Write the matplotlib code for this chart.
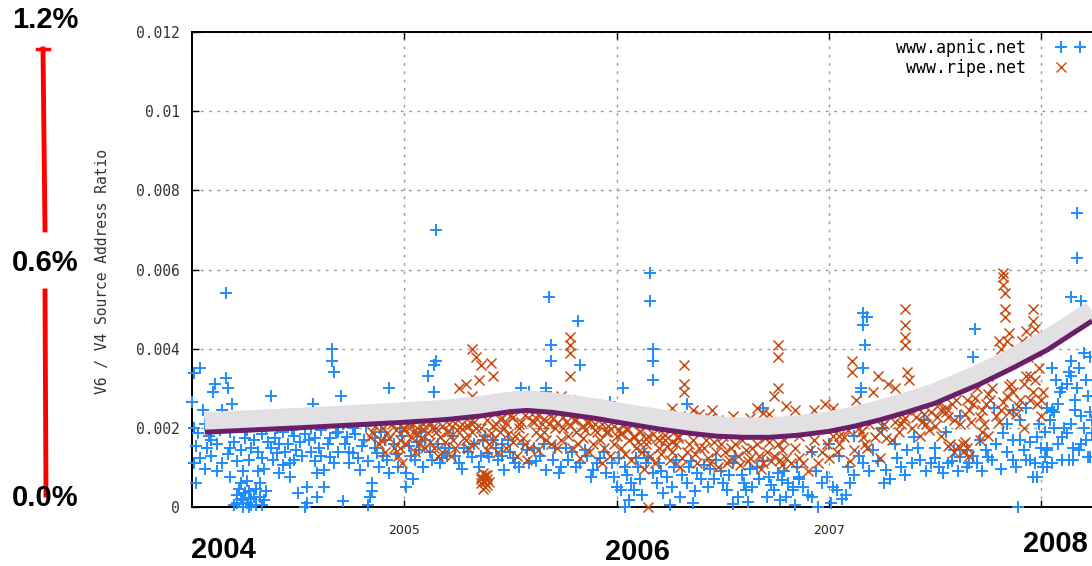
import matplotlib
matplotlib.use("Agg")
import matplotlib.pyplot as plt
from matplotlib.lines import Line2D
from matplotlib.legend_handler import HandlerLine2D

# www.apnic.net samples: (year, v6/v4 ratio)
APNIC = [
    (2004.01, 0.00338), (2004.04, 0.00350), (2004.00, 0.00265), (2004.05, 0.00245), (2004.01, 0.00200),
    (2004.03, 0.00187), (2004.07, 0.00150), (2004.01, 0.00110), (2004.02, 0.00060), (2004.11, 0.00310),
    (2004.16, 0.00326), (2004.17, 0.00300), (2004.10, 0.00290), (2004.14, 0.00245), (2004.19, 0.00260),
    (2004.18, 0.00190), (2004.18, 0.00150), (2004.12, 0.00090), (2004.18, 0.00075), (2004.21, 0.00030),
    (2004.24, 0.00018), (2004.26, 0.00010), (2004.29, 0.00025), (2004.31, 0.00090), (2004.32, 0.00060),
    (2004.34, 0.00018), (2004.37, 0.00280), (2004.37, 0.00150), (2004.40, 0.00136), (2004.41, 0.00086),
    (2004.46, 0.00076), (2004.43, 0.00190), (2004.48, 0.00180), (2004.49, 0.00144), (2004.46, 0.00110),
    (2004.54, 0.00050), (2004.54, 0.00010), (2004.56, 0.00200), (2004.57, 0.00260), (2004.60, 0.00150),
    (2004.62, 0.00093), (2004.66, 0.00400), (2004.66, 0.00370), (2004.67, 0.00340), (2004.70, 0.00280),
    (2004.68, 0.00187), (2004.65, 0.00126), (2004.59, 0.00025), (2004.73, 0.00177), (2004.76, 0.00136),
    (2004.79, 0.00093), (2004.84, 0.00025), (2004.85, 0.00060), (2004.87, 0.00136), (2004.89, 0.00190),
    (2004.93, 0.00300), (2004.93, 0.00086), (2004.97, 0.00100), (2005.01, 0.00086), (2005.01, 0.00050),
    (2005.04, 0.00070), (2005.11, 0.00330), (2005.14, 0.00360), (2005.15, 0.00370), (2005.14, 0.00290),
    (2005.09, 0.00100), (2005.17, 0.00110), (2005.19, 0.00150), (2005.26, 0.00110), (2005.32, 0.00126),
    (2005.39, 0.00136), (2005.42, 0.00170), (2005.15, 0.00700), (2004.16, 0.00540),
    (2004.06, 0.00210), (2004.09, 0.00170), (2004.13, 0.00195), (2004.22, 0.00205), (2004.25, 0.00175),
    (2004.28, 0.00150), (2004.30, 0.00215), (2004.33, 0.00125), (2004.35, 0.00200), (2004.39, 0.00175),
    (2004.42, 0.00225), (2004.45, 0.00160), (2004.50, 0.00210), (2004.52, 0.00130), (2004.55, 0.00170),
    (2004.58, 0.00115), (2004.61, 0.00195), (2004.64, 0.00160), (2004.69, 0.00140), (2004.71, 0.00210),
    (2004.74, 0.00110), (2004.77, 0.00185), (2004.80, 0.00155), (2004.82, 0.00205), (2004.86, 0.00175),
    (2004.90, 0.00130), (2004.95, 0.00160), (2004.98, 0.00200), (2005.03, 0.00130), (2005.06, 0.00165),
    (2005.08, 0.00190), (2005.12, 0.00140), (2005.20, 0.00130), (2005.23, 0.00180), (2005.28, 0.00150),
    (2005.35, 0.00100), (2005.38, 0.00180), (2005.44, 0.00120), (2004.27, 0.00040), (2004.23, 0.00060),
    (2004.20, 0.00005), (2004.30, 0.00005), (2004.50, 0.00035), (2004.62, 0.00050), (2004.71, 0.00015),
    (2004.83, 0.00005), (2004.85, 0.00040), (2004.53, 0.00000),
    (2004.02, 0.00155), (2004.04, 0.00125), (2004.06, 0.00095), (2004.08, 0.00180), (2004.09, 0.00130),
    (2004.12, 0.00160), (2004.14, 0.00110), (2004.15, 0.00205), (2004.17, 0.00135), (2004.20, 0.00165),
    (2004.21, 0.00115), (2004.23, 0.00145), (2004.24, 0.00090), (2004.26, 0.00195), (2004.27, 0.00120),
    (2004.29, 0.00170), (2004.31, 0.00140), (2004.33, 0.00185), (2004.34, 0.00095), (2004.36, 0.00165),
    (2004.38, 0.00120), (2004.40, 0.00200), (2004.41, 0.00160), (2004.43, 0.00105), (2004.44, 0.00140),
    (2004.47, 0.00195), (2004.48, 0.00120), (2004.51, 0.00165), (2004.53, 0.00185), (2004.56, 0.00140),
    (2004.58, 0.00175), (2004.59, 0.00085), (2004.61, 0.00130), (2004.63, 0.00210), (2004.65, 0.00175),
    (2004.67, 0.00110), (2004.69, 0.00190), (2004.72, 0.00160), (2004.74, 0.00140), (2004.76, 0.00200),
    (2004.78, 0.00125), (2004.81, 0.00170), (2004.83, 0.00115), (2004.86, 0.00150), (2004.88, 0.00100),
    (2004.91, 0.00170), (2004.92, 0.00120), (2004.96, 0.00135), (2004.99, 0.00180), (2005.02, 0.00155),
    (2005.05, 0.00120), (2005.07, 0.00145), (2005.10, 0.00170), (2005.13, 0.00120), (2005.16, 0.00160),
    (2005.18, 0.00125), (2005.21, 0.00150), (2005.24, 0.00130), (2005.27, 0.00095), (2005.30, 0.00140),
    (2005.33, 0.00160), (2005.36, 0.00130), (2005.43, 0.00150), (2005.46, 0.00130),
    (2004.21, 0.00010), (2004.22, 0.00045), (2004.23, 0.00020), (2004.25, 0.00035), (2004.26, 0.00065),
    (2004.28, 0.00005), (2004.28, 0.00020), (2004.30, 0.00045), (2004.32, 0.00025), (2004.33, 0.00005),
    (2004.35, 0.00040), (2004.24, 0.00000), (2004.27, 0.00000),
    (2005.69, 0.00410), (2005.69, 0.00370), (2005.83, 0.00360), (2005.55, 0.00300), (2005.59, 0.00290),
    (2005.67, 0.00300), (2005.67, 0.00290), (2005.97, 0.00265), (2006.03, 0.00300), (2006.17, 0.00400),
    (2006.17, 0.00370), (2006.17, 0.00320), (2006.33, 0.00260), (2006.69, 0.00250), (2005.37, 0.00170),
    (2005.40, 0.00126), (2005.49, 0.00170), (2005.47, 0.00093), (2005.52, 0.00110), (2005.59, 0.00110),
    (2005.61, 0.00150), (2005.67, 0.00093), (2005.73, 0.00086), (2005.77, 0.00120), (2005.83, 0.00110),
    (2005.89, 0.00093), (2005.95, 0.00086), (2006.00, 0.00050), (2006.02, 0.00043), (2006.06, 0.00018),
    (2006.08, 0.00043), (2006.11, 0.00070), (2006.14, 0.00110), (2006.17, 0.00086), (2006.22, 0.00035),
    (2006.24, 0.00076), (2006.30, 0.00025), (2006.33, 0.00060), (2006.38, 0.00086), (2006.43, 0.00050),
    (2006.46, 0.00070), (2006.52, 0.00043), (2006.57, 0.00025), (2006.61, 0.00043), (2006.64, 0.00050),
    (2006.71, 0.00025), (2006.74, 0.00043), (2006.77, 0.00018), (2006.80, 0.00025), (2006.83, 0.00050),
    (2006.16, 0.00590), (2006.16, 0.00520), (2005.68, 0.00530), (2005.82, 0.00470),
    (2005.50, 0.00140), (2005.56, 0.00160), (2005.64, 0.00130), (2005.71, 0.00150), (2005.79, 0.00140),
    (2005.86, 0.00130), (2005.92, 0.00125), (2005.98, 0.00110), (2006.04, 0.00100), (2006.09, 0.00125),
    (2006.13, 0.00140), (2006.20, 0.00110), (2006.27, 0.00100), (2006.35, 0.00115), (2006.41, 0.00105),
    (2006.49, 0.00090), (2006.55, 0.00110), (2006.59, 0.00080), (2006.66, 0.00100), (2006.72, 0.00075),
    (2006.79, 0.00090), (2006.86, 0.00070), (2006.04, 0.00000), (2006.25, 0.00005), (2006.36, 0.00010),
    (2006.55, 0.00008), (2006.62, 0.00012), (2006.84, 0.00005),
    (2005.46, 0.00160), (2005.51, 0.00125), (2005.54, 0.00100), (2005.58, 0.00145), (2005.62, 0.00115),
    (2005.66, 0.00160), (2005.70, 0.00120), (2005.74, 0.00100), (2005.76, 0.00150), (2005.81, 0.00100),
    (2005.85, 0.00145), (2005.88, 0.00075), (2005.91, 0.00110), (2005.94, 0.00140), (2005.99, 0.00075),
    (2006.01, 0.00125), (2006.05, 0.00080), (2006.07, 0.00060), (2006.10, 0.00100), (2006.12, 0.00030),
    (2006.15, 0.00125), (2006.19, 0.00060), (2006.21, 0.00090), (2006.26, 0.00050), (2006.28, 0.00120),
    (2006.31, 0.00080), (2006.34, 0.00100), (2006.37, 0.00040), (2006.40, 0.00070), (2006.44, 0.00095),
    (2006.47, 0.00120), (2006.50, 0.00060), (2006.53, 0.00080), (2006.56, 0.00130), (2006.60, 0.00060),
    (2006.63, 0.00095), (2006.67, 0.00070), (2006.69, 0.00115), (2006.73, 0.00055), (2006.76, 0.00085),
    (2006.81, 0.00060), (2006.85, 0.00100), (2006.88, 0.00050), (2006.90, 0.00030), (2006.94, 0.00090),
    (2006.99, 0.00075), (2007.02, 0.00050), (2007.08, 0.00030), (2007.12, 0.00080), (2007.14, 0.00130),
    (2007.19, 0.00090), (2007.23, 0.00115), (2007.26, 0.00060), (2007.32, 0.00125), (2007.36, 0.00080),
    (2007.39, 0.00110), (2007.42, 0.00150), (2007.46, 0.00090), (2007.50, 0.00125), (2007.54, 0.00085),
    (2007.58, 0.00115), (2007.61, 0.00090), (2007.68, 0.00130), (2007.72, 0.00090), (2007.77, 0.00120),
    (2007.81, 0.00095), (2007.84, 0.00140), (2007.88, 0.00100), (2007.92, 0.00145), (2007.97, 0.00110),
    (2008.00, 0.00150), (2008.05, 0.00110), (2008.08, 0.00160), (2008.11, 0.00200), (2008.16, 0.00270),
    (2008.19, 0.00230), (2008.22, 0.00280), (2008.08, 0.00260), (2008.12, 0.00310), (2008.17, 0.00300),
    (2008.02, 0.00190), (2008.06, 0.00200), (2008.15, 0.00120), (2008.21, 0.00170), (2008.24, 0.00220),
    (2006.78, 0.00068), (2006.83, 0.00043), (2006.86, 0.00076), (2006.92, 0.00025), (2006.97, 0.00060),
    (2007.01, 0.00010), (2007.04, 0.00043), (2007.09, 0.00100), (2007.10, 0.00060), (2007.16, 0.00110),
    (2007.21, 0.00144), (2007.27, 0.00093), (2007.29, 0.00070), (2007.34, 0.00100), (2007.37, 0.00144),
    (2007.40, 0.00177), (2007.43, 0.00120), (2007.48, 0.00110), (2007.52, 0.00100), (2007.56, 0.00110),
    (2007.59, 0.00144), (2007.65, 0.00100), (2007.65, 0.00144), (2007.71, 0.00170), (2007.74, 0.00144),
    (2007.79, 0.00160), (2007.87, 0.00120), (2007.95, 0.00120), (2007.96, 0.00076), (2008.01, 0.00100),
    (2008.03, 0.00144), (2007.98, 0.00177), (2007.90, 0.00170), (2007.87, 0.00245), (2007.93, 0.00250),
    (2007.99, 0.00210), (2008.05, 0.00245), (2008.10, 0.00300), (2008.14, 0.00330), (2008.18, 0.00350),
    (2008.10, 0.00177), (2008.14, 0.00210), (2008.18, 0.00144), (2008.10, 0.00120), (2008.19, 0.00160),
    (2008.14, 0.00370), (2008.14, 0.00530), (2008.19, 0.00520), (2008.17, 0.00630), (2008.17, 0.00742),
    (2007.16, 0.00490), (2007.18, 0.00480), (2007.16, 0.00460), (2007.17, 0.00410), (2007.69, 0.00450),
    (2007.16, 0.00350), (2007.15, 0.00300), (2007.15, 0.00290), (2007.68, 0.00380), (2008.05, 0.00350),
    (2008.13, 0.00340), (2008.20, 0.00390), (2008.23, 0.00380), (2008.07, 0.00320), (2008.21, 0.00320),
    (2008.09, 0.00290), (2008.03, 0.00250), (2008.06, 0.00240), (2008.16, 0.00245), (2008.23, 0.00240),
    (2008.04, 0.00220), (2008.12, 0.00187), (2008.20, 0.00200), (2008.24, 0.00187), (2008.03, 0.00150),
    (2008.15, 0.00150), (2008.22, 0.00126), (2008.02, 0.00126), (2008.03, 0.00100), (2007.98, 0.00076),
    (2008.13, 0.00120), (2008.23, 0.00126), (2007.93, 0.00120), (2007.87, 0.00170), (2007.95, 0.00163),
    (2007.90, 0.00220), (2007.82, 0.00187), (2007.79, 0.00160), (2007.75, 0.00126), (2007.70, 0.00110),
    (2007.66, 0.00110), (2007.62, 0.00126), (2007.89, 0.00000),
    (2007.00, 0.00160), (2007.12, 0.00180), (2007.25, 0.00200), (2007.45, 0.00220), (2007.55, 0.00190),
    (2007.62, 0.00230), (2007.78, 0.00250), (2007.84, 0.00210), (2006.92, 0.00140), (2007.05, 0.00130),
    (2007.31, 0.00160), (2007.50, 0.00150), (2007.06, 0.00020), (2006.95, 0.00000),
]

# www.ripe.net samples: (year, v6/v4 ratio)
RIPE = [
    (2004.84, 0.00177), (2004.85, 0.00190), (2004.88, 0.00160), (2004.92, 0.00187), (2004.95, 0.00150),
    (2004.98, 0.00170), (2004.99, 0.00110), (2005.03, 0.00177), (2005.04, 0.00190), (2005.07, 0.00160),
    (2005.11, 0.00187), (2005.14, 0.00150), (2005.17, 0.00177), (2005.20, 0.00190), (2005.23, 0.00170),
    (2005.26, 0.00300), (2005.29, 0.00310), (2005.35, 0.00320), (2005.32, 0.00400), (2005.34, 0.00380),
    (2005.36, 0.00360), (2005.32, 0.00280), (2005.37, 0.00086), (2005.39, 0.00070), (2005.36, 0.00060),
    (2005.38, 0.00050), (2005.36, 0.00076), (2005.39, 0.00055), (2005.29, 0.00170), (2005.32, 0.00190),
    (2005.41, 0.00187), (2005.43, 0.00210), (2004.98, 0.00150), (2004.90, 0.00200), (2004.94, 0.00210),
    (2005.00, 0.00200), (2005.09, 0.00210), (2005.13, 0.00200), (2005.18, 0.00140), (2005.22, 0.00130),
    (2005.27, 0.00210), (2005.30, 0.00150), (2005.40, 0.00160), (2005.44, 0.00140), (2005.42, 0.00330),
    (2005.41, 0.00365),
    (2004.86, 0.00205), (2004.89, 0.00170), (2004.91, 0.00140), (2004.93, 0.00175), (2004.96, 0.00195),
    (2004.97, 0.00130), (2005.01, 0.00160), (2005.02, 0.00215), (2005.05, 0.00140), (2005.06, 0.00200),
    (2005.08, 0.00175), (2005.10, 0.00150), (2005.12, 0.00165), (2005.15, 0.00200), (2005.16, 0.00130),
    (2005.19, 0.00165), (2005.21, 0.00210), (2005.24, 0.00150), (2005.25, 0.00195), (2005.28, 0.00175),
    (2005.31, 0.00215), (2005.33, 0.00160), (2005.34, 0.00200), (2005.37, 0.00175), (2005.39, 0.00145),
    (2005.42, 0.00170), (2005.45, 0.00190), (2005.37, 0.00065), (2005.38, 0.00080), (2005.40, 0.00062),
    (2005.00, 0.00195), (2005.03, 0.00205), (2005.06, 0.00185), (2005.09, 0.00198), (2005.12, 0.00210),
    (2005.15, 0.00190), (2005.18, 0.00205), (2005.21, 0.00192), (2005.24, 0.00212), (2005.27, 0.00198),
    (2005.30, 0.00205), (2005.33, 0.00215), (2005.36, 0.00200), (2005.39, 0.00220), (2005.42, 0.00205),
    (2005.45, 0.00222), (2005.48, 0.00212), (2005.51, 0.00228), (2005.54, 0.00210), (2005.57, 0.00232),
    (2005.60, 0.00218), (2005.63, 0.00232), (2005.66, 0.00222), (2005.69, 0.00230), (2005.72, 0.00212),
    (2005.75, 0.00228), (2005.78, 0.00208), (2005.81, 0.00220), (2005.84, 0.00205), (2005.87, 0.00215),
    (2005.90, 0.00195), (2005.93, 0.00210), (2005.96, 0.00190), (2005.99, 0.00205), (2006.02, 0.00185),
    (2006.05, 0.00200), (2006.08, 0.00178), (2006.11, 0.00192), (2006.14, 0.00172), (2006.17, 0.00185),
    (2006.20, 0.00170), (2006.23, 0.00182), (2006.26, 0.00165), (2006.29, 0.00175), (2005.36, 0.00070),
    (2005.38, 0.00062), (2005.37, 0.00045), (2005.39, 0.00080),
    (2005.78, 0.00430), (2005.78, 0.00410), (2005.78, 0.00390), (2005.78, 0.00330), (2006.32, 0.00360),
    (2006.32, 0.00310), (2006.32, 0.00290), (2006.26, 0.00250), (2006.36, 0.00245), (2006.45, 0.00245),
    (2006.76, 0.00410), (2006.76, 0.00380), (2006.76, 0.00300), (2006.74, 0.00280), (2006.80, 0.00255),
    (2006.69, 0.00237), (2005.74, 0.00280), (2005.78, 0.00270), (2006.15, 0.00000),
    (2006.30, 0.00230), (2006.39, 0.00235), (2006.44, 0.00225), (2006.55, 0.00230), (2006.63, 0.00225),
    (2006.72, 0.00235), (2006.66, 0.00250),
    (2005.47, 0.00200), (2005.50, 0.00230), (2005.52, 0.00180), (2005.55, 0.00215), (2005.57, 0.00160),
    (2005.60, 0.00235), (2005.62, 0.00190), (2005.65, 0.00210), (2005.67, 0.00170), (2005.70, 0.00225),
    (2005.72, 0.00150), (2005.75, 0.00200), (2005.77, 0.00180), (2005.80, 0.00220), (2005.82, 0.00160),
    (2005.85, 0.00195), (2005.87, 0.00140), (2005.90, 0.00210), (2005.92, 0.00170), (2005.95, 0.00190),
    (2005.97, 0.00130), (2006.00, 0.00180), (2006.02, 0.00150), (2006.05, 0.00195), (2006.07, 0.00120),
    (2006.10, 0.00165), (2006.12, 0.00140), (2006.15, 0.00180), (2006.18, 0.00110), (2006.20, 0.00150),
    (2006.23, 0.00170), (2006.25, 0.00120), (2006.28, 0.00160), (2006.30, 0.00100), (2006.33, 0.00140),
    (2006.36, 0.00170), (2006.38, 0.00110), (2006.41, 0.00150), (2006.43, 0.00125), (2006.46, 0.00165),
    (2006.48, 0.00100), (2006.51, 0.00140), (2006.53, 0.00120), (2006.56, 0.00160), (2006.58, 0.00105),
    (2006.61, 0.00145), (2006.63, 0.00125), (2006.66, 0.00160), (2006.68, 0.00095), (2006.71, 0.00140),
    (2006.73, 0.00115), (2006.76, 0.00160), (2006.78, 0.00105), (2005.48, 0.00150), (2005.53, 0.00130),
    (2005.58, 0.00120), (2005.63, 0.00145), (2005.68, 0.00210), (2005.73, 0.00240), (2005.83, 0.00125),
    (2005.88, 0.00230), (2005.93, 0.00110), (2006.03, 0.00210), (2006.08, 0.00180), (2006.13, 0.00095),
    (2006.22, 0.00200), (2006.27, 0.00190), (2006.40, 0.00190), (2006.50, 0.00180), (2006.60, 0.00185),
    (2006.70, 0.00175), (2006.48, 0.00220), (2006.55, 0.00210),
    (2005.46, 0.00225), (2005.49, 0.00185), (2005.51, 0.00165), (2005.54, 0.00200), (2005.56, 0.00175),
    (2005.59, 0.00150), (2005.61, 0.00215), (2005.64, 0.00180), (2005.66, 0.00190), (2005.69, 0.00160),
    (2005.71, 0.00200), (2005.74, 0.00170), (2005.76, 0.00215), (2005.79, 0.00150), (2005.81, 0.00190),
    (2005.84, 0.00175), (2005.86, 0.00215), (2005.89, 0.00160), (2005.91, 0.00190), (2005.94, 0.00150),
    (2005.96, 0.00205), (2005.99, 0.00160), (2006.01, 0.00195), (2006.04, 0.00135), (2006.06, 0.00170),
    (2006.09, 0.00150), (2006.11, 0.00190), (2006.14, 0.00160), (2006.16, 0.00130), (2006.19, 0.00175),
    (2006.21, 0.00135), (2006.24, 0.00155), (2006.26, 0.00140), (2006.29, 0.00180), (2006.31, 0.00125),
    (2006.34, 0.00160), (2006.37, 0.00135), (2006.39, 0.00150), (2006.42, 0.00170), (2006.44, 0.00110),
    (2006.47, 0.00140), (2006.49, 0.00160), (2006.52, 0.00110), (2006.54, 0.00150), (2006.57, 0.00130),
    (2006.59, 0.00170), (2006.62, 0.00115), (2006.64, 0.00150), (2006.67, 0.00130), (2006.69, 0.00110),
    (2006.72, 0.00165), (2006.74, 0.00130), (2006.77, 0.00120), (2006.79, 0.00170),
    (2006.78, 0.00144), (2006.82, 0.00110), (2006.86, 0.00125), (2006.91, 0.00144), (2006.95, 0.00110),
    (2007.00, 0.00125), (2006.99, 0.00160), (2007.07, 0.00177), (2007.12, 0.00144), (2007.16, 0.00177),
    (2007.19, 0.00210), (2007.22, 0.00177), (2007.26, 0.00210), (2007.29, 0.00237), (2007.34, 0.00210),
    (2007.37, 0.00245), (2007.41, 0.00227), (2007.46, 0.00210), (2007.47, 0.00270), (2007.51, 0.00227),
    (2007.53, 0.00245), (2007.56, 0.00227), (2007.58, 0.00260), (2007.62, 0.00210), (2007.63, 0.00160),
    (2007.66, 0.00245), (2007.71, 0.00227), (2007.74, 0.00260), (2007.77, 0.00300), (2007.81, 0.00245),
    (2007.84, 0.00280), (2007.86, 0.00310), (2007.90, 0.00270), (2007.93, 0.00330), (2007.96, 0.00290),
    (2007.98, 0.00260), (2008.01, 0.00290), (2007.99, 0.00350), (2007.63, 0.00140), (2007.65, 0.00150),
    (2007.61, 0.00155), (2007.53, 0.00180), (2007.43, 0.00180), (2007.80, 0.00215), (2007.69, 0.00275),
    (2007.36, 0.00500), (2007.36, 0.00460), (2007.36, 0.00430), (2007.36, 0.00410), (2007.82, 0.00590),
    (2007.82, 0.00580), (2007.82, 0.00560), (2007.83, 0.00540), (2007.83, 0.00500), (2007.83, 0.00480),
    (2007.85, 0.00440), (2007.96, 0.00500), (2007.96, 0.00470), (2007.97, 0.00450), (2007.93, 0.00445),
    (2007.80, 0.00420), (2007.81, 0.00400), (2007.11, 0.00370), (2007.11, 0.00340), (2007.23, 0.00330),
    (2007.28, 0.00310), (2007.37, 0.00340), (2007.38, 0.00320), (2007.31, 0.00300), (2006.84, 0.00245),
    (2006.93, 0.00245), (2006.98, 0.00260), (2007.02, 0.00250), (2007.13, 0.00270), (2007.21, 0.00290),
    (2007.84, 0.00420), (2007.88, 0.00400), (2007.91, 0.00420), (2007.94, 0.00380), (2007.75, 0.00330),
    (2007.70, 0.00300), (2007.57, 0.00300), (2007.50, 0.00280), (2006.86, 0.00180), (2006.90, 0.00090),
    (2007.04, 0.00140), (2007.10, 0.00115), (2007.18, 0.00150), (2007.24, 0.00125), (2007.30, 0.00170),
    (2007.47, 0.00195), (2007.56, 0.00155), (2007.72, 0.00190), (2007.88, 0.00235), (2007.92, 0.00200),
    (2008.00, 0.00230), (2006.97, 0.00200), (2007.06, 0.00215),
    (2006.80, 0.00125), (2006.84, 0.00150), (2006.88, 0.00110), (2006.93, 0.00170), (2006.97, 0.00140),
    (2007.02, 0.00180), (2007.05, 0.00160), (2007.09, 0.00195), (2007.14, 0.00200), (2007.17, 0.00160),
    (2007.20, 0.00230), (2007.24, 0.00190), (2007.27, 0.00175), (2007.31, 0.00215), (2007.33, 0.00190),
    (2007.36, 0.00225), (2007.39, 0.00200), (2007.42, 0.00250), (2007.44, 0.00215), (2007.48, 0.00240),
    (2007.50, 0.00205), (2007.52, 0.00260), (2007.55, 0.00240), (2007.59, 0.00220), (2007.60, 0.00270),
    (2007.64, 0.00235), (2007.67, 0.00215), (2007.68, 0.00260), (2007.72, 0.00245), (2007.73, 0.00210),
    (2007.76, 0.00270), (2007.79, 0.00230), (2007.82, 0.00265), (2007.85, 0.00240), (2007.87, 0.00290),
    (2007.89, 0.00255), (2007.92, 0.00310), (2007.95, 0.00270), (2007.97, 0.00320), (2008.00, 0.00270),
    (2007.57, 0.00160), (2007.59, 0.00140), (2007.64, 0.00165), (2007.66, 0.00130), (2007.71, 0.00170),
    (2007.75, 0.00180),
    (2007.05, 0.00180), (2007.15, 0.00190), (2007.25, 0.00205), (2007.35, 0.00220), (2007.45, 0.00235),
    (2007.55, 0.00250), (2007.65, 0.00270), (2007.75, 0.00285), (2007.85, 0.00305), (2007.95, 0.00330),
]

# hand drawn trend curve (purple), with its grey shadow above
TREND_T = [2004.06, 2004.50, 2005.00, 2005.20, 2005.36, 2005.50, 2005.58, 2005.70, 2005.90, 2006.03,
           2006.20, 2006.35, 2006.47, 2006.60, 2006.72, 2006.85, 2007.00, 2007.12, 2007.24, 2007.37,
           2007.50, 2007.60, 2007.71, 2007.87, 2008.03, 2008.13, 2008.24]
TREND_V = [0.00189, 0.00200, 0.00214, 0.00221, 0.00230, 0.00241, 0.00244, 0.00239, 0.00224, 0.00212,
           0.00197, 0.00186, 0.00179, 0.00176, 0.00176, 0.00181, 0.00191, 0.00204, 0.00220, 0.00240,
           0.00262, 0.00285, 0.00310, 0.00352, 0.00397, 0.00432, 0.00470]
SHADOW_OFFSET = 0.00024

YTICKS = [0, 0.002, 0.004, 0.006, 0.008, 0.01, 0.012]
YTICK_LABELS = ["0", "0.002", "0.004", "0.006", "0.008", "0.01", "0.012"]
XTICKS = [2005, 2006, 2007, 2008]
XTICK_LABELS = ["2005", "", "2007", ""]

BLUE = "#1e8cff"
ORANGE = "#c84a10"


class FirstPointOnly(HandlerLine2D):
    # gnuplot-like key: only the left sample of the two is drawn
    def create_artists(self, *args, **kwargs):
        arts = super().create_artists(*args, **kwargs)
        arts[0].set_markevery([0])
        return arts


fig = plt.figure(figsize=(10.92, 5.66), dpi=100)
ax = fig.add_axes([192 / 1092, 1 - 507 / 566, 1 - 192 / 1092, (507 - 32) / 566])

ax.set_xlim(2004.0, 2008.24)
ax.set_ylim(0, 0.012)

at, av = zip(*APNIC)
rt, rv = zip(*RIPE)
ax.scatter(at, av, marker="+", s=72, color=BLUE, linewidths=1.4, zorder=3, clip_on=False)
ax.scatter(rt, rv, marker="x", s=52, color=ORANGE, linewidths=1.1, zorder=4, clip_on=False)

ax.plot(TREND_T, [v + SHADOW_OFFSET for v in TREND_V], color="#e2e0e2", lw=15,
        solid_capstyle="butt", zorder=5)
ax.plot(TREND_T, TREND_V, color="#6b1f68", lw=3.6, solid_capstyle="butt", zorder=6)

ax.set_yticks(YTICKS)
ax.set_yticklabels(YTICK_LABELS, family="DejaVu Sans Mono", fontsize=10.5, color="#333333")
ax.set_xticks(XTICKS)
ax.set_xticklabels(XTICK_LABELS, fontsize=9, color="#222222")
ax.tick_params(direction="in", length=5, width=1, top=True, right=False)
ax.tick_params(axis="y", pad=9)
ax.tick_params(axis="x", pad=12)
ax.grid(True, color="#9a9a9a", linestyle=(0, (2, 4)), lw=1)
ax.set_axisbelow(True)
for side in ["left", "top", "bottom"]:
    ax.spines[side].set_linewidth(1.4)
ax.spines["right"].set_visible(False)

fig.text(103 / 1092, 1 - 272 / 566, "V6 / V4 Source Address Ratio", rotation=90,
         ha="center", va="center", family="DejaVu Sans Mono", fontsize=10.5, color="#333333")

# legend, gnuplot style (label on the left, sample on the right)
h_ap = Line2D([], [], ls="none", marker="+", ms=9, mew=1.4, color=BLUE)
h_ri = Line2D([], [], ls="none", marker="x", ms=7.5, mew=1.0, color=ORANGE)
ax.legend([h_ap, h_ri], ["www.apnic.net", "www.ripe.net"], loc="upper right",
          frameon=False, markerfirst=False, prop={"family": "DejaVu Sans Mono", "size": 12},
          handlelength=1.75, handletextpad=1.8, labelspacing=0.12, borderaxespad=0.3,
          borderpad=0.1,
          handler_map={h_ap: HandlerLine2D(numpoints=2), h_ri: FirstPointOnly(numpoints=2)})

# slide annotations
big = dict(family="Liberation Sans", fontweight="bold", fontsize=21, ha="center", va="center")
fig.text(45 / 1092, 1 - 20 / 566, "1.2%", **big)
fig.text(45 / 1092, 1 - 263 / 566, "0.6%", **big)
fig.text(45 / 1092, 1 - 498 / 566, "0.0%", **big)
fig.text(223 / 1092, 1 - 550 / 566, "2004", **big)
fig.text(637 / 1092, 1 - 552 / 566, "2006", **big)
fig.text(1055 / 1092, 1 - 544 / 566, "2008", **big)

W, H = 1092, 566
fig.add_artist(Line2D([43 / W, 45 / W], [1 - 49 / H, 1 - 230 / H], color="red", lw=3.5))
fig.add_artist(Line2D([45 / W, 46 / W], [1 - 291 / H, 1 - 495 / H], color="red", lw=3.5))
fig.add_artist(Line2D([37 / W, 49 / W], [1 - 49 / H, 1 - 49 / H], color="red", lw=2.5))

fig.savefig("out.png", dpi=100)
